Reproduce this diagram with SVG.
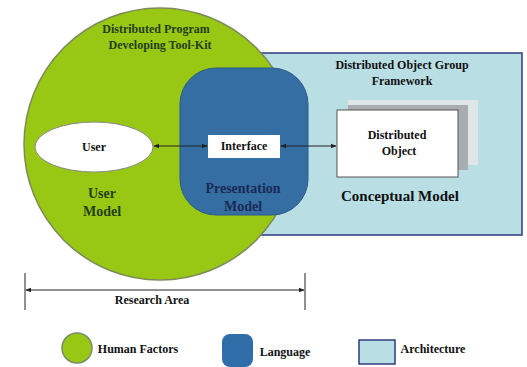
<svg xmlns="http://www.w3.org/2000/svg" width="527" height="367" viewBox="0 0 527 367" font-family="'Liberation Serif','DejaVu Serif','Times New Roman',serif" font-weight="bold">
<defs>
<style>
text{font-family:"Liberation Serif","DejaVu Serif","Times New Roman",serif;font-weight:bold;text-anchor:middle}
.s{font-size:12px;fill:#111}
.dg{font-size:12px;fill:#23401a}
.g{font-size:14px;fill:#23401a}
.b{font-size:14px;fill:#1a2a55}
.c{font-size:15px;fill:#111}
.line{stroke:#222;stroke-width:1;fill:none}
</style>
<marker id="ah" viewBox="0 0 10 10" refX="9" refY="5" markerWidth="6" markerHeight="6" orient="auto-start-reverse">
<path d="M0,1 L10,5 L0,9 z" fill="#222"/>
</marker>
</defs>
<rect width="527" height="367" fill="#fff"/>
<g id="framework">
<rect x="245" y="53" width="277" height="182" fill="#b9dfe4" stroke="#2e3a80" stroke-width="1.5"/>
</g>
<g id="toolkit">
<circle cx="160" cy="144" r="136" fill="#99c814" stroke="#7a8a5a" stroke-width="1.5"/>
<text class="dg" x="156" y="33">Distributed Program</text>
<text class="dg" x="160" y="49">Developing Tool-Kit</text>
</g>
<g id="presentation">
<rect x="180" y="68" width="128" height="147" rx="36" fill="#356ea3" stroke="#2a5a8a" stroke-width="1"/>
<text class="b" x="243" y="193">Presentation</text>
<text class="b" x="243" y="211">Model</text>
</g>
<g id="user">
<ellipse cx="94" cy="147" rx="59" ry="25" fill="#fff" stroke="#888" stroke-width="1"/>
<text class="s" x="94" y="151">User</text>
<text class="g" x="102" y="198">User</text>
<text class="g" x="102" y="216">Model</text>
</g>
<g id="interface">
<rect x="208" y="135" width="72" height="23" fill="#fff"/>
<text class="s" x="244" y="150">Interface</text>
</g>
<g id="object">
<rect x="348" y="100" width="130" height="65" fill="#dfe6e8"/>
<rect x="348" y="105" width="120" height="65" fill="#a9adb0"/>
<rect x="337" y="110" width="121" height="67" fill="#fff" stroke="#555" stroke-width="1"/>
<text class="s" x="397" y="139">Distributed</text>
<text class="s" x="399" y="155">Object</text>
<text class="c" x="400" y="201">Conceptual Model</text>
<text class="s" x="402" y="69">Distributed Object Group</text>
<text class="s" x="402" y="85">Framework</text>
</g>
<g id="connectors">
<line class="line" x1="154" y1="146" x2="207" y2="146" marker-start="url(#ah)" marker-end="url(#ah)"/>
<line class="line" x1="281" y1="146" x2="336" y2="146" marker-start="url(#ah)" marker-end="url(#ah)"/>
<line class="line" x1="25" y1="273" x2="25" y2="310"/>
<line class="line" x1="305" y1="273" x2="305" y2="310"/>
<line class="line" x1="26" y1="290" x2="304" y2="290" marker-start="url(#ah)" marker-end="url(#ah)"/>
</g>
<g id="research">
<text class="s" x="152" y="304">Research Area</text>
</g>
<g id="legend">
<circle cx="77" cy="348" r="15" fill="#99c814" stroke="#7a8a6a" stroke-width="1.5"/>
<text class="s" x="138" y="353">Human Factors</text>
<rect x="222" y="334" width="31" height="33" rx="8" fill="#2f6ea8"/>
<text class="s" x="285" y="356">Language</text>
<rect x="359" y="340" width="36" height="24" fill="#b9dfe4" stroke="#2e3a80" stroke-width="1.5"/>
<text class="s" x="433" y="353">Architecture</text>
</g>
</svg>
